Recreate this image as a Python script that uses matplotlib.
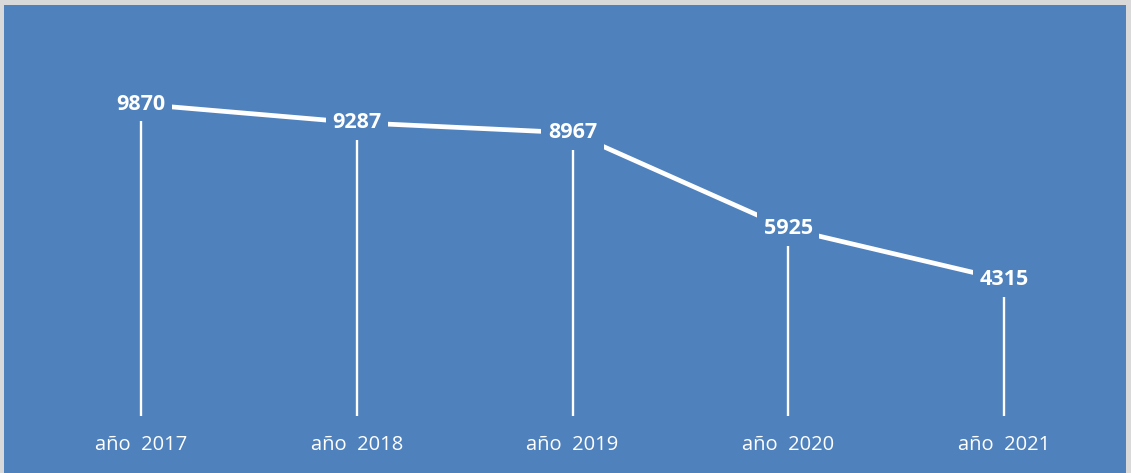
import matplotlib.pyplot as plt
from matplotlib.patches import Rectangle

# datos
anios = ['año  2017', 'año  2018', 'año  2019', 'año  2020', 'año  2021']
valores = [9870, 9287, 8967, 5925, 4315]

azul = '#4F81BD'
W, H = 1131, 473

fig = plt.figure(figsize=(W / 100, H / 100), dpi=100, facecolor='#D9D9D9')
# fondo azul dentro del borde gris
fig.patches.append(Rectangle((4 / W, 0), (W - 9) / W, (H - 5) / H,
                             transform=fig.transFigure, facecolor=azul,
                             edgecolor='none', zorder=-10))

ax = fig.add_axes([33 / W, (H - 416) / H, (1112 - 33) / W, (416 - 37) / H])
ax.set_zorder(5)
ax.set_facecolor('none')
for s in ax.spines.values():
    s.set_visible(False)

x = list(range(len(valores)))
ax.vlines(x, 0, valores, color='white', lw=1.7, zorder=2)
ax.plot(x, valores, color='white', lw=3.4, solid_capstyle='butt', zorder=2)

for xi, v in zip(x, valores):
    ax.text(xi, v, f'{v}', ha='center', va='center', color='white',
            fontsize=15.5, fontweight='bold', family='Open Sans', zorder=4,
            bbox=dict(boxstyle='square,pad=0.3', facecolor=azul, edgecolor='none'))

ax.set_xlim(-0.5, 4.5)
ax.set_ylim(0, 12000)
ax.set_yticks([])
ax.set_xticks(x, anios)
ax.tick_params(axis='x', length=0, pad=14, colors='white', labelsize=14.5)
for lab in ax.get_xticklabels():
    lab.set_family('Open Sans')

fig.savefig('out.png', dpi=100, facecolor=fig.get_facecolor())
